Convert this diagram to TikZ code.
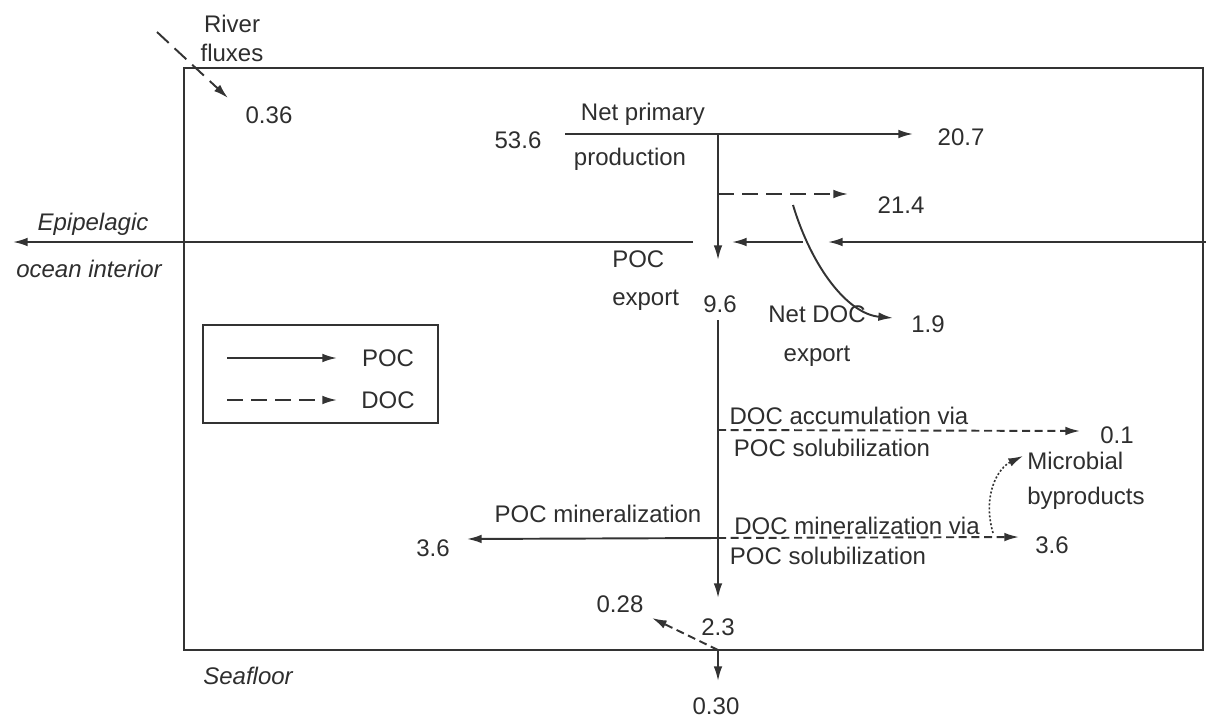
\documentclass[tikz,border=0pt]{standalone}
\usepackage{fontspec}
\setmainfont{Liberation Sans}
\usetikzlibrary{arrows.meta}
\definecolor{ink}{HTML}{2E2E2E}
\definecolor{lin}{HTML}{333333}
\begin{document}
\begin{tikzpicture}[x=0.75pt,y=-0.75pt,
  every node/.style={font=\fontsize{18}{22}\selectfont, text=ink, inner sep=0pt},
  lbl/.style={anchor=base},
  lblw/.style={anchor=base west, align=left},
  lnk/.style={draw=lin, line width=1.45pt},
  arr/.style={lnk, -{Latex[length=11pt,width=6.5pt]}},
  longdash/.style={dash pattern=on 12pt off 6pt},
  shortdash/.style={dash pattern=on 6pt off 3.5pt},
  dotline/.style={dash pattern=on 1.5pt off 1.5pt}]
\useasboundingbox (0,0) rectangle (1206,717);

% ---- boxes
\draw[lnk] (184,68) rectangle (1203,650);
\draw[lnk] (203,325) rectangle (438,423);

% ---- text nodes (multi-line nodes are placed at the baseline of their last line)
\node[lbl, align=center] (river) at (232,62) {River\\fluxes};
\node[lbl] (v036) at (269,123) {0.36};
\node[lbl] (npp1) at (643,120) {Net primary};
\node[lbl] (npp2) at (630,165) {production};
\node[lbl] (v536) at (518,148) {53.6};
\node[lbl] (v207) at (961,145) {20.7};
\node[lbl] (v214) at (901,213) {21.4};
\node[lbl, font=\fontsize{18}{22}\selectfont\itshape] (epi) at (93,230) {Epipelagic};
\node[lbl, font=\fontsize{18}{22}\selectfont\itshape] (oi) at (89,277) {ocean interior};
\node[lblw, font=\fontsize{18}{28}\selectfont] (pocexp) at (612,305) {POC\\export};
\node[lbl] (v96) at (720,312) {9.6};
\node[lbl, align=center, font=\fontsize{18}{29}\selectfont] (netdoc) at (817,361) {Net DOC\\export};
\node[lbl] (v19) at (928,332) {1.9};
\node[lbl] (legpoc) at (388,366) {POC};
\node[lbl] (legdoc) at (388,408) {DOC};
\node[lbl] (docacc) at (849,424) {DOC accumulation via};
\node[lbl] (pocsol1) at (832,456) {POC solubilization};
\node[lbl] (v01) at (1117,443) {0.1};
\node[lblw, font=\fontsize{18}{26}\selectfont] (micro) at (1027,504) {Microbial\\byproducts};
\node[lbl] (docmin) at (857,534) {DOC mineralization via};
\node[lbl] (pocsol2) at (828,564) {POC solubilization};
\node[lbl] (v36r) at (1052,553) {3.6};
\node[lbl] (pocmin) at (598,522) {POC mineralization};
\node[lbl] (v36l) at (433,556) {3.6};
\node[lbl] (v028) at (620,612) {0.28};
\node[lbl] (v23) at (718,635) {2.3};
\node[lbl] (v030) at (716,714) {0.30};
\node[lbl, font=\fontsize{18}{22}\selectfont\itshape] (sea) at (248,684) {Seafloor};

% ---- coordinates
\coordinate (rivS) at (157,32);
\coordinate (rivE) at (228,98);
\coordinate (nppS) at (565,134);
\coordinate (nppJ) at (718,134);
\coordinate (nppE) at (913,134);
\coordinate (dJ)   at (718,194);
\coordinate (dE)   at (848,194);
\coordinate (vE)   at (718,260);
\coordinate (eL1)  at (693,242);
\coordinate (eL2)  at (13,242);
\coordinate (eM1)  at (803,242);
\coordinate (eM2)  at (732,242);
\coordinate (eR1)  at (1206,242);
\coordinate (eR2)  at (828,242);
\coordinate (cS)   at (793,205);
\coordinate (cE)   at (893,318);
\coordinate (lvS)  at (718,320);
\coordinate (lvE)  at (718,598);
\coordinate (accJ) at (718,430);
\coordinate (accE) at (1080,431);
\coordinate (minJ) at (718,538);
\coordinate (minL) at (467,539);
\coordinate (minR) at (1019,537);
\coordinate (mbS)  at (993,533);
\coordinate (mbE)  at (1023,456);
\coordinate (sfJ)  at (718,650);
\coordinate (sfL)  at (652,618);
\coordinate (sfD)  at (718,681);
\coordinate (lg1)  at (227,358);
\coordinate (lg2)  at (337,358);
\coordinate (lg3)  at (227,400);
\coordinate (lg4)  at (337,400);

% ---- connectors
\draw[arr, longdash] (rivS) -- (rivE);
\draw[arr] (nppS) -- (nppE);
\draw[arr] (nppJ) -- (vE);
\draw[arr, longdash] (dJ) -- (dE);
\draw[arr] (eL1) -- (eL2);
\draw[arr] (eM1) -- (eM2);
\draw[arr] (eR1) -- (eR2);
\draw[arr] (cS) .. controls (812,268) and (848,314) .. (cE);
\draw[arr] (lvS) -- (lvE);
\draw[arr, shortdash] (accJ) -- (accE);
\draw[arr] (minJ) -- (minL);
\draw[arr, shortdash] (minJ) -- (minR);
\draw[arr, dotline, line width=1.2pt] (mbS) .. controls (982,495) and (998,468) .. (mbE);
\draw[arr, shortdash] (sfJ) -- (sfL);
\draw[arr] (sfJ) -- (sfD);
\draw[arr] (lg1) -- (lg2);
\draw[arr, longdash] (lg3) -- (lg4);
\end{tikzpicture}
\end{document}
